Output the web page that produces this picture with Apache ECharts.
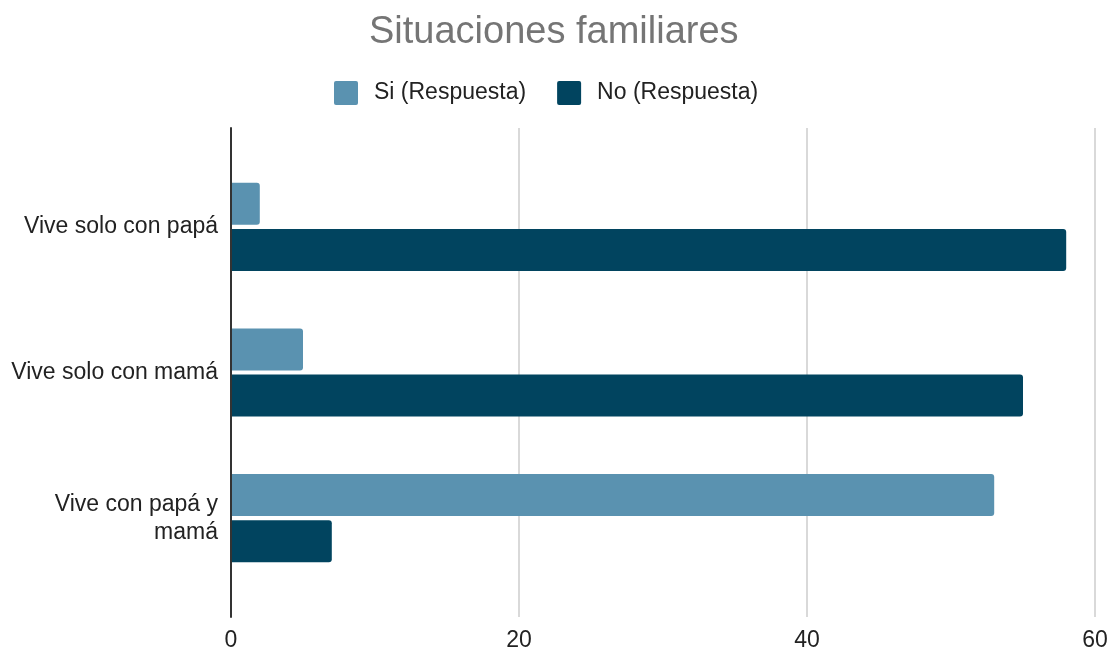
<!DOCTYPE html>
<html>
<head>
<meta charset="utf-8">
<script src="https://cdn.jsdelivr.net/npm/echarts@6/dist/echarts.min.js"></script>
<style>
  html, body { margin: 0; padding: 0; background: #fff; }
  #main { width: 1116px; height: 653px; }
</style>
</head>
<body>
<div id="main"></div>
<script>
// datos del grafico
var categories = ['Vive solo con papá', 'Vive solo con mamá', 'Vive con papá y\nmamá'];
var siValues = [2, 5, 53];
var noValues = [58, 55, 7];
var xTicks = [0, 20, 40, 60];

var FONT = '"Liberation Sans", Arial, sans-serif';

var myChart = echarts.init(document.getElementById('main'));

var option = {
    backgroundColor: '#ffffff',
    title: {
        text: 'Situaciones familiares',
        left: 364,
        top: 9,
        textStyle: { fontFamily: FONT, fontSize: 38, fontWeight: 'normal', color: '#757575' }
    },
    legend: {
        data: ['Si (Respuesta)', 'No (Respuesta)'],
        left: 329,
        top: 76,
        itemWidth: 24,
        itemHeight: 24,
        itemGap: 31,
        icon: 'path://M2,0 L22,0 Q24,0 24,2 L24,22 Q24,24 22,24 L2,24 Q0,24 0,22 L0,2 Q0,0 2,0 Z',
        textStyle: { fontFamily: FONT, fontSize: 23, color: '#222', padding: [0, 0, 0, 11] }
    },
    grid: [
        // area de las barras
        { left: 231, right: 21, top: 154, bottom: 62 },
        // area de fondo: lineas de division y eje vertical
        { left: 231, right: 21, top: 128, bottom: 36 }
    ],
    xAxis: [
        { gridIndex: 0, type: 'value', min: 0, max: 60, interval: 20, show: false },
        {
            gridIndex: 1, type: 'value', min: xTicks[0], max: xTicks[xTicks.length - 1], interval: 20,
            axisLine: { show: false },
            axisTick: { show: false },
            axisLabel: { fontFamily: FONT, fontSize: 23, color: '#222', margin: 12 },
            splitLine: { show: true, lineStyle: { color: '#cccccc', width: 1.5 } }
        }
    ],
    yAxis: [
        {
            gridIndex: 0, type: 'category', data: categories, inverse: true,
            axisLine: { show: false },
            axisTick: { show: false },
            axisLabel: { fontFamily: FONT, fontSize: 23, color: '#222', margin: 13, align: 'right', lineHeight: 28 }
        },
        {
            gridIndex: 1, type: 'value', min: 0, max: 1, z: 5,
            axisLine: { show: true, lineStyle: { color: '#333', width: 2 } },
            axisTick: { show: false },
            axisLabel: { show: false },
            splitLine: { show: false }
        }
    ],
    series: [
        {
            name: 'Si (Respuesta)',
            type: 'bar',
            xAxisIndex: 0, yAxisIndex: 0,
            data: siValues,
            barWidth: 42,
            barGap: '10%',
            itemStyle: { color: '#5a92b0', borderRadius: [0, 3, 3, 0] }
        },
        {
            name: 'No (Respuesta)',
            type: 'bar',
            xAxisIndex: 0, yAxisIndex: 0,
            data: noValues,
            barWidth: 42,
            barGap: '10%',
            itemStyle: { color: '#01445f', borderRadius: [0, 3, 3, 0] }
        }
    ]
};

myChart.setOption(option);
</script>
</body>
</html>
